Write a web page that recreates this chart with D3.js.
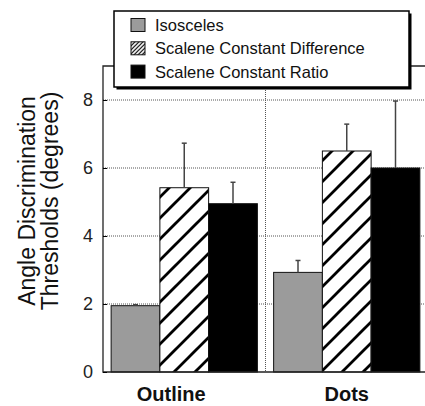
<!DOCTYPE html>
<html>
<head>
<meta charset="utf-8">
<script src="https://cdn.jsdelivr.net/npm/d3@7"></script>
<style>
  body { margin: 0; background: #fff; }
  svg { display: block; font-family: "Liberation Sans", Arial, Helvetica, sans-serif; }
</style>
</head>
<body>
<div id="chart"></div>
<script>
// chart data
var categories = ["Outline", "Dots"];
var conditions = ["Isosceles", "Scalene Constant Difference", "Scalene Constant Ratio"];
var isoscelesMean = [1.95, 2.93];
var isoscelesErr = [0.03, 0.35];
var differenceMean = [5.42, 6.5];
var differenceErr = [1.31, 0.79];
var ratioMean = [4.95, 6.0];
var ratioErr = [0.63, 1.97];
var yTicks = [0, 2, 4, 6, 8];

var width = 425, height = 406;
// plot edges (note: "top" is a reserved window global, so prefixed names)
var plotLeft = 103, plotRight = 428, plotTop = 66, plotBottom = 372;

var svg = d3.select("#chart").append("svg")
    .attr("width", width)
    .attr("height", height);

// patterns for the hatched bars
var defs = svg.append("defs");
var hatch = defs.append("pattern")
    .attr("id", "hatch")
    .attr("patternUnits", "userSpaceOnUse")
    .attr("width", 21).attr("height", 21);
hatch.append("rect").attr("width", 21).attr("height", 21).attr("fill", "#fff");
hatch.append("path")
    .attr("d", "M-5,5 l10,-10 M0,21 l21,-21 M16,26 l10,-10")
    .attr("stroke", "#000").attr("stroke-width", 2.8);

var hatchSmall = defs.append("pattern")
    .attr("id", "hatchSmall")
    .attr("patternUnits", "userSpaceOnUse")
    .attr("width", 4).attr("height", 4);
hatchSmall.append("rect").attr("width", 4).attr("height", 4).attr("fill", "#fff");
hatchSmall.append("path")
    .attr("d", "M-1,1 l2,-2 M0,4 l4,-4 M3,5 l2,-2")
    .attr("stroke", "#000").attr("stroke-width", 1.2);

var fills = ["#9b9b9b", "url(#hatch)", "#000"];
var legendFills = ["#9b9b9b", "url(#hatchSmall)", "#000"];

var rows = categories.map(function (c, i) {
    return [
        { cat: c, cond: conditions[0], mean: isoscelesMean[i], err: isoscelesErr[i] },
        { cat: c, cond: conditions[1], mean: differenceMean[i], err: differenceErr[i] },
        { cat: c, cond: conditions[2], mean: ratioMean[i], err: ratioErr[i] }
    ];
});
var bars = d3.merge(rows);

var x0 = d3.scaleBand().domain(categories).range([plotLeft, plotRight])
    .paddingInner(0.1).paddingOuter(0.05);
var x1 = d3.scaleBand().domain(conditions).range([0, x0.bandwidth()]);
var y = d3.scaleLinear().domain([0, 9]).range([plotBottom, plotTop]);

// grid lines
svg.append("g").selectAll("line")
    .data(yTicks.slice(1))
    .enter().append("line")
    .attr("x1", plotLeft).attr("x2", plotRight)
    .attr("y1", function (d) { return y(d); })
    .attr("y2", function (d) { return y(d); })
    .attr("stroke", "#555").attr("stroke-width", 1)
    .attr("stroke-dasharray", "1,1");

// group separator
var sep = x0(categories[1]) - x0.step() * x0.paddingInner() / 2;
svg.append("line")
    .attr("x1", sep).attr("x2", sep)
    .attr("y1", plotTop).attr("y2", plotBottom)
    .attr("stroke", "#555").attr("stroke-width", 1)
    .attr("stroke-dasharray", "1,1");

// bars
svg.append("g").selectAll("rect")
    .data(bars)
    .enter().append("rect")
    .attr("x", function (d) { return x0(d.cat) + x1(d.cond); })
    .attr("y", function (d) { return y(d.mean); })
    .attr("width", x1.bandwidth())
    .attr("height", function (d) { return y(0) - y(d.mean); })
    .attr("fill", function (d) { return fills[conditions.indexOf(d.cond)]; })
    .attr("stroke", "#111").attr("stroke-width", 1);

// error bars (upper only)
var eb = svg.append("g").selectAll("g")
    .data(bars)
    .enter().append("g")
    .attr("stroke", "#444").attr("stroke-width", 1.5);
eb.append("line")
    .attr("x1", function (d) { return x0(d.cat) + x1(d.cond) + x1.bandwidth() / 2; })
    .attr("x2", function (d) { return x0(d.cat) + x1(d.cond) + x1.bandwidth() / 2; })
    .attr("y1", function (d) { return y(d.mean); })
    .attr("y2", function (d) { return y(d.mean + d.err); });
eb.append("line")
    .attr("x1", function (d) { return x0(d.cat) + x1(d.cond) + x1.bandwidth() / 2 - 2.5; })
    .attr("x2", function (d) { return x0(d.cat) + x1(d.cond) + x1.bandwidth() / 2 + 2.5; })
    .attr("y1", function (d) { return y(d.mean + d.err); })
    .attr("y2", function (d) { return y(d.mean + d.err); });

// frame
svg.append("path")
    .attr("d", "M" + plotRight + "," + plotTop + "H" + plotLeft + "V" + plotBottom + "H" + plotRight)
    .attr("fill", "none").attr("stroke", "#222").attr("stroke-width", 1.3);

// y axis
var yAxis = d3.axisLeft(y).tickValues(yTicks).tickSize(-4).tickPadding(10);
var gy = svg.append("g")
    .attr("transform", "translate(" + plotLeft + ",0)")
    .call(yAxis);
gy.select(".domain").remove();
gy.selectAll("text").attr("font-size", 18).attr("fill", "#222")
    .attr("font-family", "Liberation Sans, Arial, sans-serif");

// x labels
var xAxis = d3.axisBottom(x0).tickSize(0).tickPadding(15);
var gx = svg.append("g")
    .attr("transform", "translate(0," + plotBottom + ")")
    .call(xAxis);
gx.select(".domain").remove();
gx.selectAll("text")
    .attr("font-size", 20).attr("font-weight", "bold").attr("fill", "#111")
    .attr("font-family", "Liberation Sans, Arial, sans-serif")
    .attr("dx", function (d, i) { return i === 0 ? -13 : 0; });

// y axis title
var title = svg.append("text")
    .attr("transform", "translate(0,201) rotate(-90)")
    .attr("text-anchor", "middle")
    .attr("font-size", 23).attr("fill", "#111");
title.append("tspan").attr("x", 0).attr("y", 35).text("Angle Discrimination");
title.append("tspan").attr("x", 0).attr("y", 58).text("Thresholds (degrees)");

// legend
var lg = svg.append("g").attr("transform", "translate(114,11)");
lg.append("rect").attr("x", 2.5).attr("y", 2.5).attr("width", 295).attr("height", 76)
    .attr("fill", "#000");
lg.append("rect").attr("width", 295).attr("height", 76)
    .attr("fill", "#fff").attr("stroke", "#000").attr("stroke-width", 1.5);
var items = lg.selectAll("g.item")
    .data(conditions)
    .enter().append("g")
    .attr("class", "item")
    .attr("transform", function (d, i) { return "translate(17," + (7.5 + i * 23.3) + ")"; });
items.append("rect")
    .attr("width", 14).attr("height", 13)
    .attr("fill", function (d, i) { return legendFills[i]; })
    .attr("stroke", "#111").attr("stroke-width", 1);
items.append("text")
    .attr("x", 24).attr("y", 12.5)
    .attr("font-size", 16.5).attr("fill", "#111")
    .text(function (d) { return d; });
</script>
</body>
</html>
